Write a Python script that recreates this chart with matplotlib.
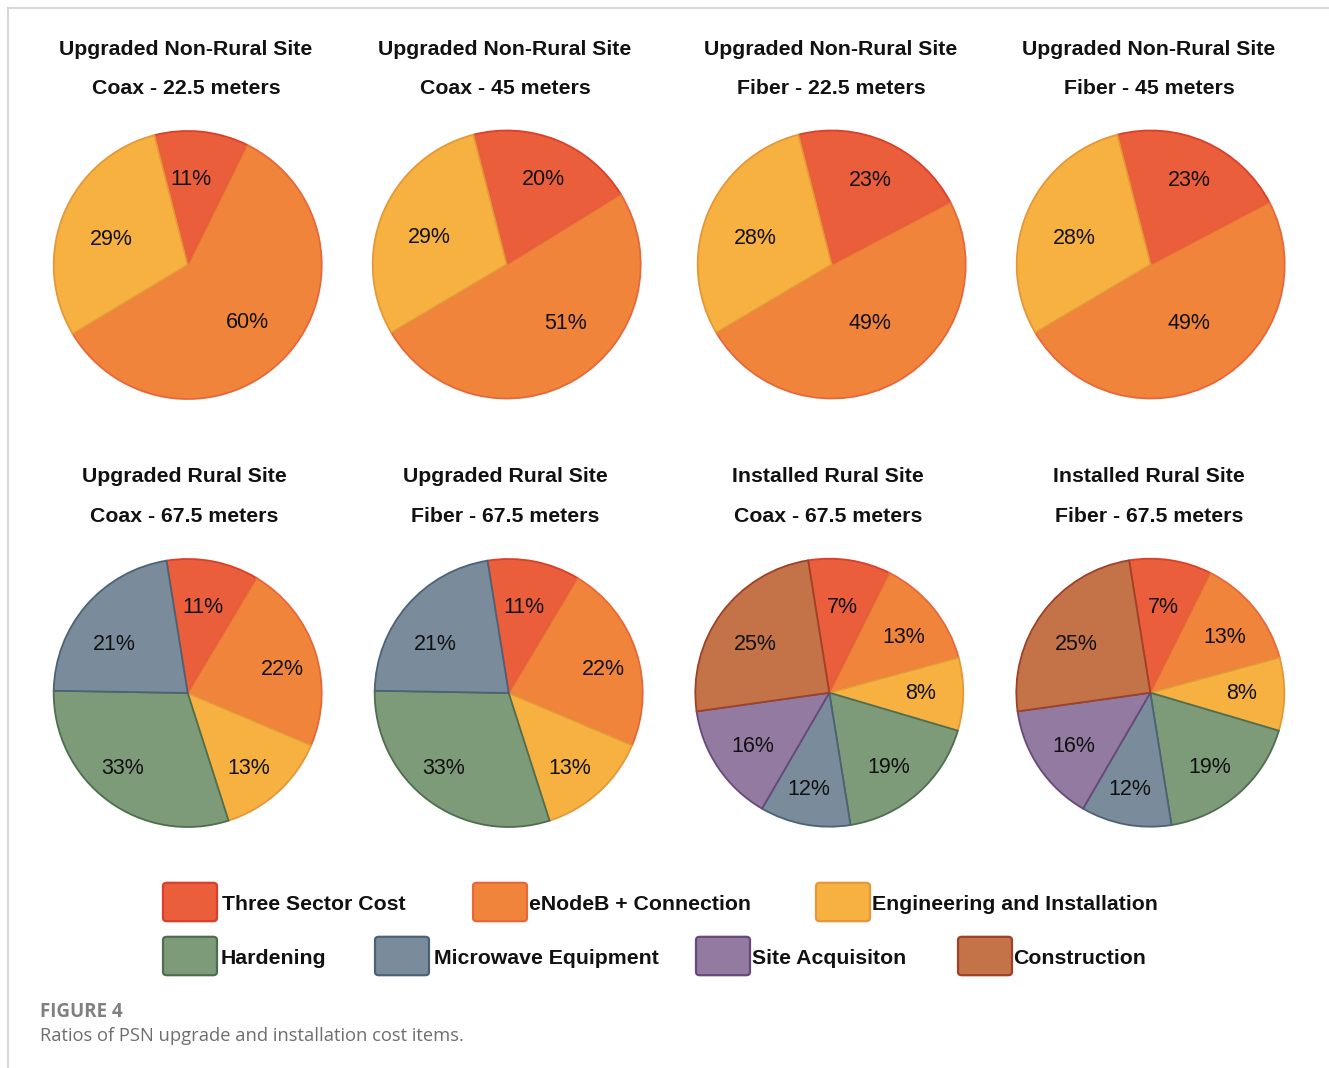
import matplotlib
matplotlib.use("Agg")
import numpy as np
import matplotlib.pyplot as plt
from matplotlib.patches import FancyBboxPatch
from matplotlib.lines import Line2D

W, H = 1329, 1068
categories = ["Three Sector Cost", "eNodeB + Connection", "Engineering and Installation",
              "Hardening", "Microwave Equipment", "Site Acquisiton", "Construction"]
fill_colors = ["#EA5E3B", "#F0843B", "#F6B141", "#7D9A79", "#7A8C9B", "#937AA0", "#C47348"]
edge_colors = ["#D8402C", "#E8673A", "#E4983A", "#4F6E4F", "#4C6276", "#66497A", "#9E4128"]

titles_line1 = ["Upgraded Non-Rural Site"] * 4 + ["Upgraded Rural Site", "Upgraded Rural Site",
                                                  "Installed Rural Site", "Installed Rural Site"]
titles_line2 = ["Coax - 22.5 meters", "Coax - 45 meters", "Fiber - 22.5 meters", "Fiber - 45 meters",
                "Coax - 67.5 meters", "Fiber - 67.5 meters", "Coax - 67.5 meters", "Fiber - 67.5 meters"]

# slice sizes as drawn in the picture (share of the circle, %)
pie_values = [
    [11.3, 59.1, 29.6],
    [20.2, 50.3, 29.5],
    [21.3, 49.2, 29.5],
    [21.3, 49.2, 29.5],
    [11.1, 22.8, 13.7, 30.2, 22.2],
    [11.1, 22.8, 13.7, 30.2, 22.2],
    [9.9, 13.4, 8.8, 17.9, 10.9, 14.4, 24.7],
    [9.9, 13.4, 8.8, 17.9, 10.9, 14.4, 24.7],
]
# percentage labels printed on the slices
pie_labels = [
    ["11%", "60%", "29%"],
    ["20%", "51%", "29%"],
    ["23%", "49%", "28%"],
    ["23%", "49%", "28%"],
    ["11%", "22%", "13%", "33%", "21%"],
    ["11%", "22%", "13%", "33%", "21%"],
    ["7%", "13%", "8%", "19%", "12%", "16%", "25%"],
    ["7%", "13%", "8%", "19%", "12%", "16%", "25%"],
]

# label placement (style): radial distance (fraction of radius) and angle offset (deg)
label_dist = [
    [0.66, 0.61, 0.61],
    [0.71, 0.61, 0.62],
    [0.71, 0.51, 0.61],
    [0.71, 0.51, 0.61],
    [0.67, 0.73, 0.71, 0.73, 0.67],
    [0.67, 0.73, 0.71, 0.73, 0.67],
    [0.66, 0.70, 0.68, 0.70, 0.72, 0.69, 0.67],
    [0.66, 0.70, 0.68, 0.70, 0.72, 0.69, 0.67],
]
label_dang = [
    [4, 0, 2],
    [-1, 15, 2],
    [0, 5, 2],
    [0, 5, 2],
    [1, -2.6, -2.7, -5, 6],
    [1, -2.6, -2.7, -5, 6],
    [0, -1.4, 1.6, -2, -1.5, 0, 2.2],
    [0, -1.4, 1.6, -2, -1.5, 0, 2.2],
]

plt.rcParams['font.family'] = ['Liberation Sans', 'DejaVu Sans']
fig = plt.figure(figsize=(W / 100, H / 100), dpi=100)

def fx(x):
    return x / W

def fy(y):
    return 1 - y / H

# frame lines
fig.add_artist(Line2D([fx(7.5), fx(7.5)], [0, fy(7.5)], color="#cfcfcf", lw=1.2))
fig.add_artist(Line2D([fx(7.5), 1], [fy(7.5), fy(7.5)], color="#cfcfcf", lw=1.2))

centers_x = [187.7, 506.7, 831.7, 1150.7, 187.7, 508.7, 829.3, 1150.3]
centers_y = [265, 264.5, 264.5, 264.5, 693, 693, 692.7, 692.7]
title_x = [186, 505, 831, 1149, 184, 505, 828, 1149]
title_y1 = [49] * 4 + [477] * 4
title_y2 = [89] * 4 + [517] * 4
start_angles = [104.4] * 4 + [99.1] * 4
R = 134
label_drop = 2.5 / R

for i, vals in enumerate(pie_values):
    cx, cy = centers_x[i], centers_y[i]
    ax = fig.add_axes([fx(cx - R), fy(cy + R), 2 * R / W, 2 * R / H])
    n = len(vals)
    wedges, _ = ax.pie(
        vals, colors=fill_colors[:n], startangle=start_angles[i], counterclock=False,
        wedgeprops=dict(linewidth=1.3))
    for k, (w, ec) in enumerate(zip(wedges, edge_colors[:n])):
        w.set_edgecolor(ec)
        mid = np.deg2rad((w.theta1 + w.theta2) / 2 + label_dang[i][k])
        d = label_dist[i][k]
        ax.text(d * np.cos(mid), d * np.sin(mid) - label_drop, pie_labels[i][k],
                ha="center", va="center", fontsize=15.5, color="#111111")
    ax.set_xlim(-1.0, 1.0)
    ax.set_ylim(-1.0, 1.0)
    ax.set_aspect("equal")
    ax.axis("off")
    fig.text(fx(title_x[i]), fy(title_y1[i]), titles_line1[i], ha="center", va="center",
             fontsize=15.3, fontweight="bold", color="#111111")
    fig.text(fx(title_x[i]), fy(title_y2[i]), titles_line2[i], ha="center", va="center",
             fontsize=15.3, fontweight="bold", color="#111111")

# legend
box_x = [163, 473, 816, 163, 375, 696, 958]
box_y = [882, 882, 882, 936, 936, 936, 936]
label_x = [222, 529, 872, 221, 434, 752, 1013]
bw, bh = 54, 40
for k, name in enumerate(categories):
    x0, y0 = box_x[k], box_y[k]
    p = FancyBboxPatch((fx(x0 + 4), fy(y0 + bh - 4)), (bw - 8) / W, (bh - 8) / H,
                       boxstyle=f"round,pad={4 / W}", transform=fig.transFigure,
                       facecolor=fill_colors[k], edgecolor=edge_colors[k], lw=1.6)
    fig.add_artist(p)
    fig.text(fx(label_x[k]), fy(y0 + bh / 2 + 3), name, ha="left", va="center",
             fontsize=15.3, fontweight="bold", color="#111111")

fig.text(fx(40), fy(1012), "FIGURE 4", ha="left", va="center", fontsize=13.5,
         fontweight="bold", color="#808080", family=["Open Sans", "DejaVu Sans"])
fig.text(fx(40), fy(1036), "Ratios of PSN upgrade and installation cost items.", ha="left",
         va="center", fontsize=13.25, color="#6e6e6e", family=["Open Sans", "DejaVu Sans"])

fig.savefig("out.png", dpi=100)
